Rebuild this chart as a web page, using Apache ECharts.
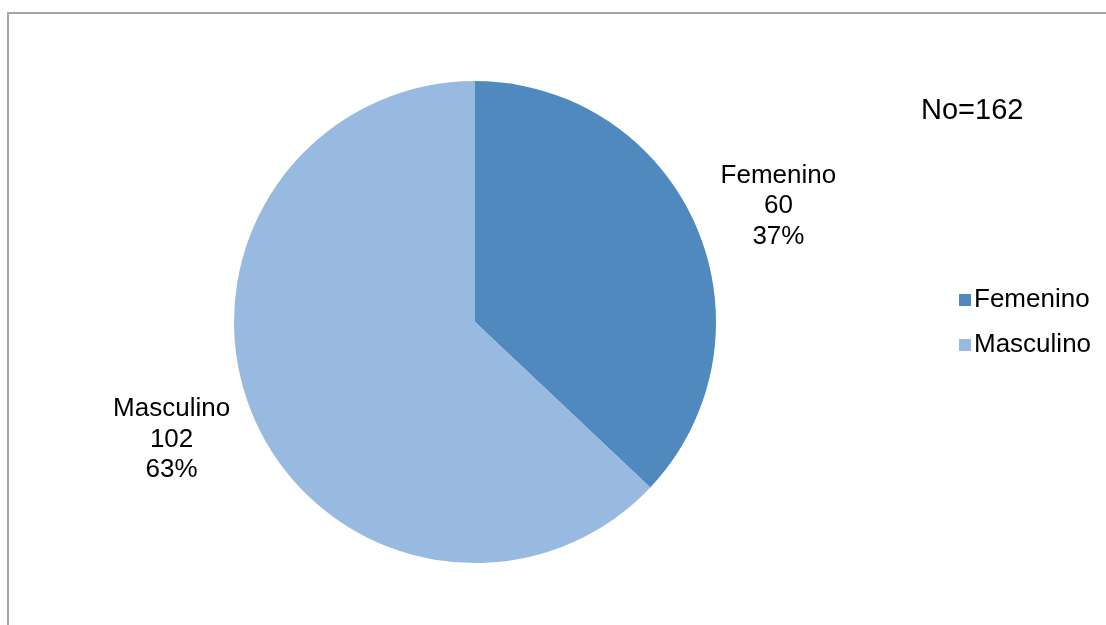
<!DOCTYPE html>
<html>
<head>
<meta charset="utf-8">
<script src="https://cdn.jsdelivr.net/npm/echarts@6/dist/echarts.min.js"></script>
<style>
  html, body { margin: 0; padding: 0; background: #fff; }
  #chart { width: 1106px; height: 625px; }
</style>
</head>
<body>
<div id="chart"></div>
<script>
// Distribución por sexo
const categories = ['Femenino', 'Masculino'];
const counts = [60, 102];
const colors = ['#4F89BE', '#98B9E0'];
const totalLabel = 'No=162';

const FONT = '"Liberation Sans", Arial, sans-serif';

const chart = echarts.init(document.getElementById('chart'), null, { renderer: 'canvas' });

chart.setOption({
  animation: false,
  backgroundColor: '#fff',
  color: colors,
  graphic: [
    {
      type: 'rect',
      shape: { x: 8, y: 13, width: 1300, height: 800 },
      style: { fill: 'none', stroke: '#a6a6a6', lineWidth: 2 },
      silent: true
    },
    {
      type: 'text',
      left: 921,
      top: 96,
      style: { text: totalLabel, fontFamily: FONT, fontSize: 29, fill: '#000' }
    }
  ],
  legend: {
    orient: 'vertical',
    left: 954,
    top: 282,
    itemWidth: 12,
    itemHeight: 12,
    itemGap: 19,
    icon: 'rect',
    data: categories,
    textStyle: { fontFamily: FONT, fontSize: 26, color: '#000', lineHeight: 26, padding: [0, 0, 0, -2] }
  },
  series: [
    {
      type: 'pie',
      center: [475, 322],
      radius: 241,
      startAngle: 90,
      clockwise: true,
      silent: true,
      itemStyle: { borderWidth: 0 },
      label: {
        show: true,
        position: 'outside',
        formatter: p => p.name + '\n' + p.value + '\n' + Math.round(p.percent) + '%',
        fontFamily: FONT,
        fontSize: 26,
        lineHeight: 30.5,
        color: '#000',
        align: 'center'
      },
      labelLine: { show: false, length: 84, length2: 0 },
      labelLayout: params => ({
        align: 'center',
        verticalAlign: 'middle',
        dy: params.dataIndex === 0 ? 13 : -11
      }),
      data: categories.map((name, i) => ({ name, value: counts[i] }))
    }
  ]
});
</script>
</body>
</html>
